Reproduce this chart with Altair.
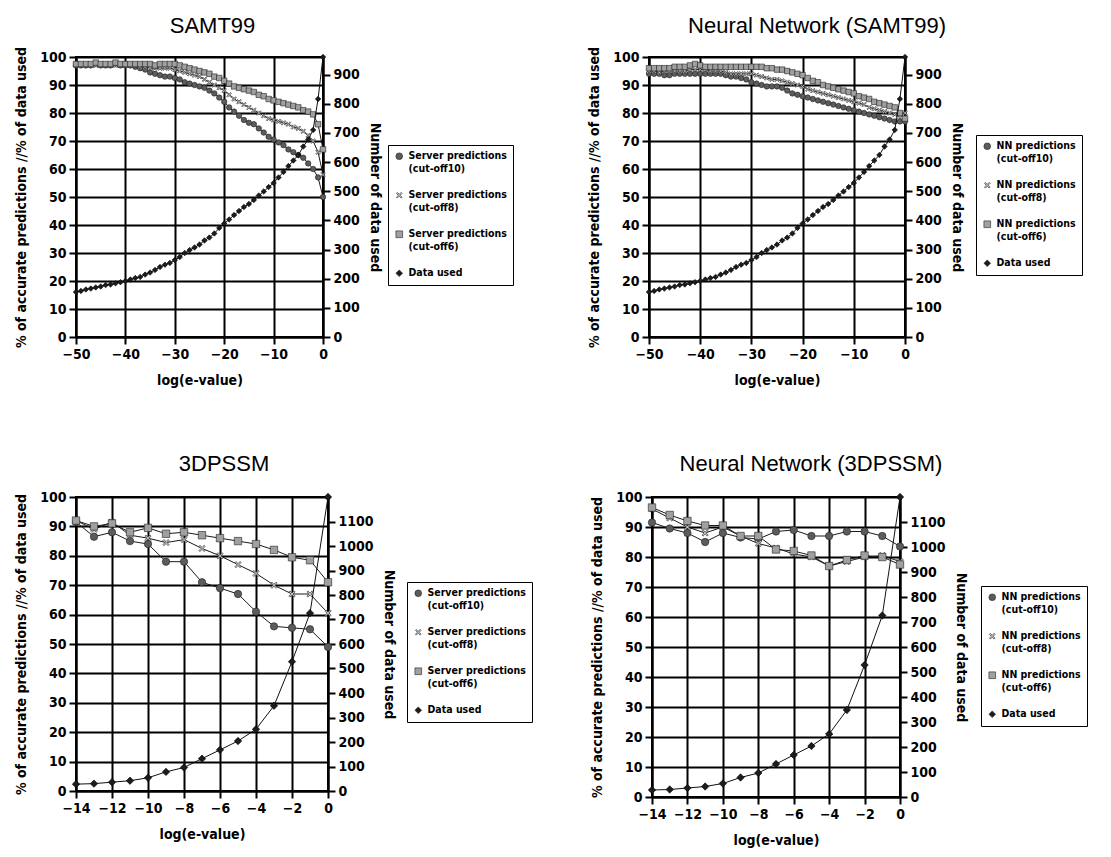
import altair as alt
import pandas as pd

# ---------------- data ----------------
X_SAMT = list(range(-50, 1))
X_3D = list(range(-14, 1))
X_TICKS_SAMT = [-50, -40, -30, -20, -10, 0]
X_TICKS_3D = [-14, -12, -10, -8, -6, -4, -2, 0]
PCT_TICKS = list(range(0, 101, 10))
USED_TICKS_SAMT = list(range(0, 901, 100))
USED_TICKS_3D = list(range(0, 1101, 100))

# SAMT99 server predictions (% accurate)
samt_c10 = [97, 97, 97, 97, 97.5, 97, 97, 97, 97.5, 97, 97, 97, 96.5, 96, 95.5, 94.5, 94, 93.5, 93, 93,
            92.5, 92, 91, 90.5, 90, 89.5, 89, 88, 87, 85.5, 84, 82, 80.5, 79, 77.5, 76.5, 76, 74.5, 73, 71.5,
            70.5, 69.5, 68.5, 67, 66, 65, 64, 62, 60, 57, 50]
samt_c8 = [97, 97, 97, 97, 97, 97, 97, 97, 97, 97, 97, 97, 97, 96.5, 96.5, 96, 96, 96, 96, 96,
           95.5, 95, 94.5, 94, 93.5, 93, 92, 91, 90, 89, 88, 86.5, 85, 84, 83, 82, 81, 80, 79, 78,
           77.5, 77, 76.5, 76, 75, 74.5, 73.5, 72, 70, 66, 58]
samt_c6 = [97.5, 97.5, 97.5, 97.5, 98, 97.5, 97.5, 97.5, 98, 97.5, 97.5, 97.5, 97.5, 97.5, 97.5, 97.5, 97, 97.5, 97.5, 97.5,
           97.5, 97, 96.5, 96, 95.5, 95, 94.5, 94, 93, 92.5, 91.5, 90.5, 89.5, 89, 88.5, 88, 87.5, 86.5, 86, 85,
           84.5, 84, 83.5, 83, 82.5, 82, 81, 80.5, 79.5, 76, 67]
# number of data used (SAMT99)
samt_used = [154, 158, 163, 166, 170, 173, 178, 180, 184, 188, 192, 197, 202, 206, 214, 221, 230, 240, 248, 254,
             264, 274, 288, 298, 307, 317, 331, 341, 355, 374, 389, 403, 418, 432, 446, 456, 470, 485, 499, 514,
             528, 547, 566, 586, 605, 624, 653, 677, 710, 816, 960]

# Neural network (SAMT99)
nn_samt_c10 = [94, 94, 94, 93.5, 93.5, 94, 94, 94, 94, 94, 94, 94, 94, 94, 94, 93.5, 93, 93, 92.5, 92,
               91, 90.5, 90, 89.5, 89.5, 89.5, 89, 88, 87, 86.5, 86, 85.5, 85, 84.5, 84, 83.5, 83, 82.5, 82, 81.5,
               81, 80.5, 80, 79.5, 79, 78.5, 78, 77.5, 77, 77, 77]
nn_samt_c8 = [95, 95, 94.5, 95, 95, 95, 95, 95, 95.5, 95.5, 95.5, 95.5, 95, 95, 95, 94.5, 94, 94, 94, 94,
              94, 93.5, 93, 92.5, 92, 92, 91.5, 91, 90.5, 90, 89.5, 88.5, 88, 87.5, 87, 86.5, 86, 85.5, 85, 84.5,
              84, 83.5, 83, 82, 81.5, 81, 80.5, 80, 79.5, 78.5, 80]
nn_samt_c6 = [96, 96, 96, 96, 96, 96.5, 96.5, 96.5, 97, 97.5, 97, 96.5, 96.5, 96.5, 96.5, 96.5, 96.5, 96.5, 96.5, 96.5,
              96.5, 96.5, 96.5, 96, 96, 95.5, 95.5, 95, 94.5, 94, 93.5, 92.5, 91.5, 91, 90, 89.5, 89, 88.5, 88, 87.5,
              87, 86, 85.5, 85, 84, 83.5, 83, 82.5, 82, 80, 78]
nn_samt_used = samt_used

# 3DPSSM server predictions
td_c10 = [91.5, 86.5, 88, 85, 84, 78, 78, 71, 69, 67, 61, 56, 55.5, 55, 49]
td_c8 = [92, 89, 91.5, 87, 86, 84.5, 85.5, 82.5, 80, 77, 74, 70, 67, 67, 60.5]
td_c6 = [92, 90, 91, 88, 89.5, 87.5, 88, 87, 86, 85, 84, 82, 79.5, 78.5, 71]
td_used = [28, 30, 36, 42, 54, 78, 96, 132, 168, 204, 252, 348, 528, 726, 1200]

# Neural network (3DPSSM)
nn_td_c10 = [91.5, 89.5, 88, 85, 88, 86.5, 86, 88.5, 89, 87, 87, 88.5, 88.5, 87, 83.5]
nn_td_c8 = [96, 93, 90, 88, 90, 87, 84.5, 83, 81, 80, 77, 78.5, 80, 80.5, 78.5]
nn_td_c6 = [96.5, 94, 92, 90.5, 90.5, 87, 87, 82.5, 82, 80.5, 77, 79, 80.5, 80, 77.5]
nn_td_used = td_used

SERVER_LABELS = ["Server predictions\n(cut-off10)", "Server predictions\n(cut-off8)",
                 "Server predictions\n(cut-off6)", "Data used"]
NN_LABELS = ["NN predictions\n(cut-off10)", "NN predictions\n(cut-off8)",
             "NN predictions\n(cut-off6)", "Data used"]

# ---------------- styling ----------------
FONT = "DejaVu Sans Condensed, Liberation Sans Narrow, DejaVu Sans, sans-serif"
TITLE_FONT = "Liberation Sans, Arial, sans-serif"
XSHAPE = ("M0.566,-0.849L0.849,-0.566L0.283,0L0.849,0.566L0.566,0.849L0,0.283"
          "L-0.566,0.849L-0.849,0.566L-0.283,0L-0.849,-0.566L-0.566,-0.849L0,-0.283Z")
FILLS = ["#5c5c5c", "#c4c4c4", "#a0a0a0", "#1c1c1c"]
SHAPES = ["circle", XSHAPE, "square", "diamond"]


def panel(title, title_dx, title_off, xs, x_ticks, series, labels, used, used_max, used_ticks,
          w, h, lx, ly, msize, ytitle_pad):
    rows = []
    for lab, vals in zip(labels[:3], series):
        for x, v in zip(xs, vals):
            rows.append({"x": x, "v": v, "s": lab})
    pred = pd.DataFrame(rows)
    used_df = pd.DataFrame({"x": xs, "n": used, "s": [labels[3]] * len(xs)})

    xenc = alt.X("x:Q", scale=alt.Scale(domain=[xs[0], xs[-1]], nice=False, zero=False),
                 axis=alt.Axis(values=x_ticks, title="log(e-value)", format="d", grid=True,
                               labelFlush=False, labelOverlap=False, titlePadding=12))
    legend = alt.Legend(orient="none", legendX=lx, legendY=ly, title=None,
                        labelExpr="split(datum.label, '\\n')",
                        labelFont=FONT, labelFontSize=10.5, labelFontWeight="bold", labelColor="black",
                        strokeColor="black", fillColor="white", padding=6, rowPadding=15,
                        symbolSize=45, symbolStrokeColor="#222", symbolStrokeWidth=0.6,
                        labelOffset=4, labelLimit=200)
    color = alt.Color("s:N", scale=alt.Scale(domain=labels, range=FILLS), legend=legend)
    shape = alt.Shape("s:N", scale=alt.Scale(domain=labels, range=SHAPES), legend=legend)

    yl = alt.Y("v:Q", scale=alt.Scale(domain=[0, 100], nice=False, zero=True),
               axis=alt.Axis(values=PCT_TICKS, title="% of accurate predictions //% of data used",
                             grid=True, labelOverlap=False, titlePadding=ytitle_pad))
    yr = alt.Y("n:Q", scale=alt.Scale(domain=[0, used_max], nice=False, zero=True),
               axis=alt.Axis(orient="right", values=used_ticks, grid=False, labelOverlap=False,
                             format="d", title="Number of data used", titlePadding=8))

    pl = alt.Chart(pred).mark_line(color="#1a1a1a", strokeWidth=1).encode(x=xenc, y=yl, detail="s:N")
    pp = alt.Chart(pred).mark_point(filled=True, size=msize, opacity=1, stroke="#222",
                                    strokeWidth=0.6).encode(x=xenc, y=yl, color=color, shape=shape)
    ul = alt.Chart(used_df).mark_line(color="#111", strokeWidth=1).encode(x=xenc, y=yr)
    up = alt.Chart(used_df).mark_point(filled=True, size=msize, opacity=1, stroke="#000",
                                       strokeWidth=0.6).encode(x=xenc, y=yr, color=color, shape=shape)
    left = alt.layer(pl, pp)
    right = alt.layer(ul, up)
    return alt.layer(left, right).resolve_scale(y="independent").properties(
        width=w, height=h,
        title=alt.TitleParams(title, font=TITLE_FONT, fontSize=22, fontWeight="normal", color="black",
                              anchor="middle", frame="group", dx=title_dx, offset=title_off))


p1 = panel("SAMT99", 13, 8, X_SAMT, X_TICKS_SAMT, [samt_c10, samt_c8, samt_c6], SERVER_LABELS,
           samt_used, 960, USED_TICKS_SAMT, 247, 280, 312, 88, 30, 11)
p2 = panel("Neural Network (SAMT99)", 40, 8, X_SAMT, X_TICKS_SAMT, [nn_samt_c10, nn_samt_c8, nn_samt_c6],
           NN_LABELS, nn_samt_used, 960, USED_TICKS_SAMT, 256, 280, 327, 78, 30, 11)
p3 = panel("3DPSSM", 22, 14, X_3D, X_TICKS_3D, [td_c10, td_c8, td_c6], SERVER_LABELS,
           td_used, 1200, USED_TICKS_3D, 252, 294, 331, 85, 55, 11)
p4 = panel("Neural Network (3DPSSM)", 35, 14, X_3D, X_TICKS_3D, [nn_td_c10, nn_td_c8, nn_td_c6], NN_LABELS,
           nn_td_used, 1200, USED_TICKS_3D, 248, 300, 329, 89, 55, 11)

row1 = alt.hconcat(p1, p2, spacing=71).resolve_scale(color="independent", shape="independent")
row2 = alt.hconcat(p3, p4, spacing=55).resolve_scale(color="independent", shape="independent")

chart = alt.vconcat(row1, row2, spacing=64).resolve_scale(
    color="independent", shape="independent"
).properties(
    padding={"left": 13, "top": 14, "right": 0, "bottom": 0},
    background="white",
).configure_axis(
    labelFont=FONT, labelFontSize=14, labelFontWeight="bold", labelColor="black", labelPadding=3,
    titleFont=FONT, titleFontSize=14, titleFontWeight="bold", titleColor="black",
    domainColor="black", domainWidth=2, tickColor="black", tickWidth=2, tickSize=7,
    gridColor="black", gridWidth=2, gridOpacity=1,
).configure_view(stroke="black", strokeWidth=2)

chart.save("out.html", embed_options={"renderer": "svg", "actions": False})
